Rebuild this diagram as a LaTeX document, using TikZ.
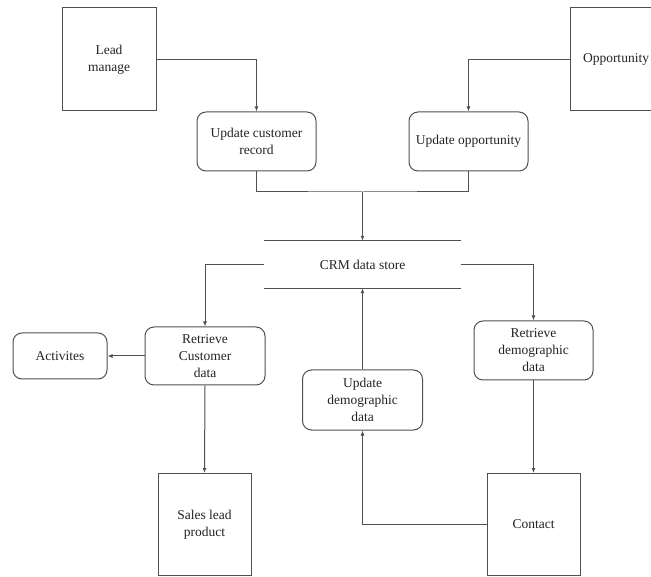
\documentclass[tikz,border=0pt]{standalone}
\usepackage{fontspec}
\setmainfont{Liberation Serif}
\usetikzlibrary{arrows.meta,calc,positioning}
\definecolor{LineGray}{RGB}{80,80,80}
\definecolor{TextGray}{RGB}{35,35,35}

\begin{document}
\begin{tikzpicture}[x=1pt,y=-1pt,>={Latex[length=5pt,width=4pt]},
  every node/.style={font=\fontsize{13.5}{17}\selectfont,text=TextGray,align=center,inner sep=2pt},
  entity/.style={draw=LineGray,line width=1pt},
  process/.style={draw=LineGray,line width=1pt,rounded corners=9pt},
  flow/.style={draw=LineGray,line width=1pt}]
\useasboundingbox (0,0) rectangle (651,577);
\clip (0,0) rectangle (651,577);
\node[entity,minimum width=94pt,minimum height=103pt] (lead) at (109,59.5) {Lead\\manage};
\node[entity,minimum width=92pt,minimum height=103pt] (opp) at (616,59.5) {Opportunity};
\node[process,minimum width=119pt,minimum height=59pt] (ucr) at (256.5,141.5) {Update customer\\record};
\node[process,minimum width=119pt,minimum height=59pt] (uopp) at (468.5,141.5) {Update opportunity};
\node[minimum width=196pt,minimum height=47pt] (crm) at (362.5,264.5) {CRM data store};
\node[process,minimum width=120pt,minimum height=58pt] (rcd) at (205,356) {Retrieve\\Customer\\data};
\node[process,minimum width=94pt,minimum height=46pt] (act) at (60,356) {Activites};
\node[entity,minimum width=93pt,minimum height=102pt] (slp) at (204.5,524.5) {Sales lead\\product};
\node[process,minimum width=120pt,minimum height=60pt] (udd) at (362.5,400) {Update\\demographic\\data};
\node[process,minimum width=119pt,minimum height=59pt] (rdd) at (533.5,350.5) {Retrieve\\demographic\\data};
\node[entity,minimum width=93pt,minimum height=102pt] (contact) at (533.5,524.5) {Contact};
\coordinate (jn) at (362.5,192);
% data store lines
\draw[flow] (crm.north west)--(crm.north east);
\draw[flow] (crm.south west)--(crm.south east);
% flows
\draw[flow,->] (lead.east)-|(ucr.north);
\draw[flow,->] (opp.west)-|(uopp.north);
\draw[flow] (ucr.south)|-(jn)-|(uopp.south);
\draw[flow,->] (jn)--(crm.north);
\draw[flow,->] (crm.west)-|(rcd.north);
\draw[flow,->] (crm.east)-|(rdd.north);
\draw[flow,->] (rcd.west)--(act.east);
\draw[flow,->] (rcd.south)--(slp.north);
\draw[flow,->] (rdd.south)--(contact.north);
\draw[flow,->] (udd.north)--(crm.south);
\draw[flow,->] (contact.west)-|(udd.south);
\end{tikzpicture}
\end{document}
